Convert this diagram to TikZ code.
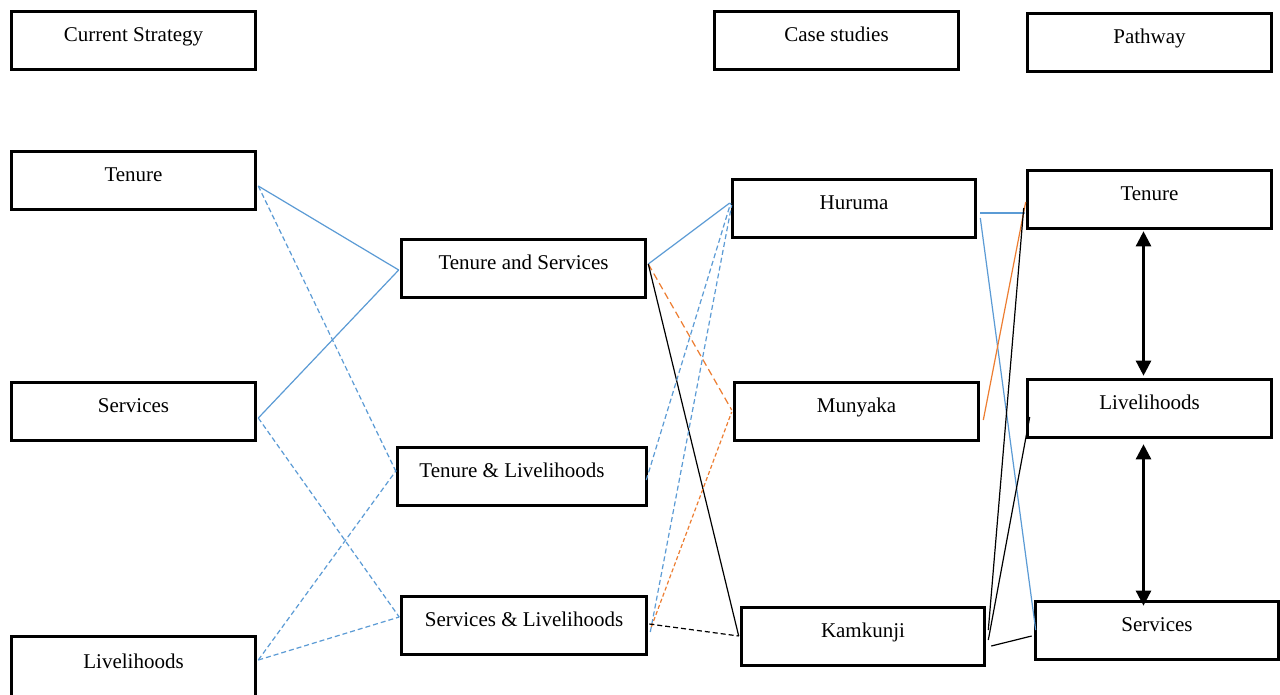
\documentclass[tikz,border=0pt]{standalone}
\usepackage{fontspec}
\setmainfont{Liberation Serif}
\usetikzlibrary{calc,arrows.meta}
\definecolor{linkblue}{HTML}{5B9BD5}
\definecolor{linkorange}{HTML}{ED7D31}
\tikzset{
  box/.style={draw, line width=2.6pt, minimum width=244pt, minimum height=58pt,
    inner sep=0pt, text height=15pt, text depth=14pt,
    font=\fontsize{21}{25}\selectfont},
  bluesolid/.style={draw=linkblue, line width=1.2pt},
  bluedash/.style={draw=linkblue, line width=1.2pt, dash pattern=on 5pt off 3pt},
  orangesolid/.style={draw=linkorange, line width=1.2pt},
  orangedash/.style={draw=linkorange, line width=1.2pt, dash pattern=on 7pt off 4pt},
  orangedot/.style={draw=linkorange, line width=1.2pt, dash pattern=on 4pt off 2.5pt},
  blacksolid/.style={draw=black, line width=1.2pt},
  blackdash/.style={draw=black, line width=1.2pt, dash pattern=on 5pt off 3pt},
  biarrow/.style={draw=black, line width=2.5pt,
    {Triangle[length=15pt,width=15pt]}-{Triangle[length=15pt,width=15pt]}}
}
\begin{document}
\begin{tikzpicture}[x=1pt,y=-1pt]
\clip (0,0) rectangle (1280,694);
\fill[white] (0,0) rectangle (1280,694);

% column headings
\node[box] (cs)  at (133.5,40.5)  {Current Strategy};
\node[box] (cst) at (836.5,40.5)  {Case studies};
\node[box] (pw)  at (1149.5,42.5) {Pathway};

% current strategies
\node[box] (lt) at (133.5,180.5) {Tenure};
\node[box] (ls) at (133.5,411.5) {Services};
\node[box, minimum height=63pt] (ll) at (133.5,668) {Livelihoods};

% combined strategies
\node[box] (ts) at (523.5,268.5) {Tenure and Services};
\node[box, minimum width=249pt] (tl) at (522,476.5) {\hspace*{-20pt}Tenure \& Livelihoods};
\node[box, minimum width=245pt] (sl) at (524,625.5) {Services \& Livelihoods};

% case studies
\node[box, minimum width=243pt] (hu) at (854,208.5)   {Huruma};
\node[box] (mu) at (856.5,411.5) {Munyaka};
\node[box, minimum width=243pt] (ka) at (863,636.5)   {Kamkunji};

% pathway
\node[box] (rt) at (1149.5,199.5) {Tenure};
\node[box] (rl) at (1149.5,408.5) {Livelihoods};
\node[box, minimum width=243pt] (rs) at (1157,630.5) {Services};

% strategies to combinations
\draw[bluesolid] ($(lt.east)+(1.5,5.5)$) -- ($(ts.west)+(-1.5,1.5)$);
\draw[bluedash]  ($(lt.east)+(1.5,5.5)$) -- ($(tl.west)+(0,-4.5)$);
\draw[bluesolid] ($(ls.east)+(1.5,6.5)$) -- ($(ts.west)+(-1.5,1.5)$);
\draw[bluedash]  ($(ls.east)+(1.5,6.5)$) -- ($(sl.west)+(-1,-8.5)$);
\draw[bluedash]  ($(ll.east)+(1.5,-8)$) -- ($(tl.west)+(0,-6)$);
\draw[bluedash]  ($(ll.east)+(1.5,-8)$) -- ($(sl.west)+(-1,-8.5)$);

% combinations to case studies
\draw[bluesolid]  ($(ts.east)+(1.5,-4.5)$) -- ($(hu.west)+(-1.5,-5.5)$);
\draw[orangedash] ($(ts.east)+(1.5,-4.5)$) -- ($(mu.west)+(-1.5,-1.5)$);
\draw[blacksolid] ($(ts.east)+(1.5,-4.5)$) -- ($(ka.west)+(-1.5,-0.5)$);
\draw[bluedash]   ($(tl.east)+(-1.5,3.5)$) -- ($(hu.west)+(-0.5,-5.5)$);
\draw[bluedash]   ($(sl.east)+(2.5,6.5)$)  -- ($(hu.west)+(0.5,-3.5)$);
\draw[orangedot]  ($(sl.east)+(3.5,1.5)$)  -- ($(mu.west)+(-1.5,0.5)$);
\draw[blackdash]  ($(sl.east)+(1.5,-1.5)$) -- ($(ka.west)+(-1.5,-0.5)$);

% case studies to pathway
\draw[bluesolid]   ($(hu.east)+(3.5,4.5)$) -- ($(rt.west)+(-1.5,13.5)$);
\draw[bluesolid]   ($(hu.east)+(3.5,9.5)$) -- ($(rs.west)+(1.5,-0.5)$);
\draw[orangesolid] ($(mu.east)+(3.5,8.5)$) -- ($(rt.west)+(-0.5,2.5)$);
\draw[blacksolid]  ($(ka.east)+(2.5,-6.5)$) -- ($(rt.west)+(-2.5,8.5)$);
\draw[blacksolid]  ($(ka.east)+(2.5,3.5)$) -- ($(rl.west)+(3.5,8.5)$);
\draw[blacksolid]  ($(ka.east)+(5.5,9.5)$) -- ($(rs.west)+(-2.5,5.5)$);

% pathway links
\draw[biarrow] ($(rt.south)+(-6,1.5)$) -- ($(rl.north)+(-6,-2.5)$);
\draw[biarrow] ($(rl.south)+(-6,5.5)$) -- ($(rs.north)+(-13.5,5.5)$);
\end{tikzpicture}
\end{document}
